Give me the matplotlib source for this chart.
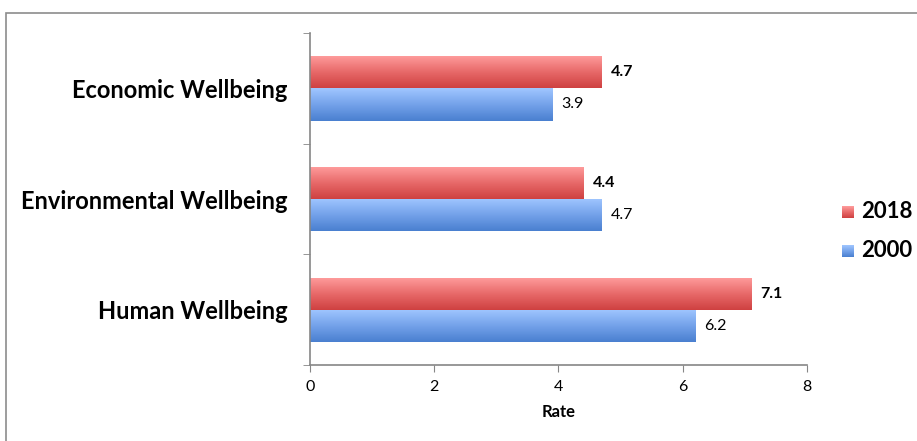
import numpy as np
import matplotlib.pyplot as plt
from matplotlib.colors import LinearSegmentedColormap
from matplotlib.patches import Rectangle

plt.rcParams["font.family"] = ["Lato", "DejaVu Sans"]

categories = ["Human Wellbeing", "Environmental Wellbeing", "Economic Wellbeing"]
rate_2018 = [7.1, 4.4, 4.7]
rate_2000 = [6.2, 4.7, 3.9]

fig = plt.figure(figsize=(9.17, 4.41), dpi=100)
ax = fig.add_axes([0.338, 0.172, 0.542, 0.753])

# grey frame round the chart area
fig.patches.append(Rectangle((0.0065, -0.1), 1.1, 1.07, transform=fig.transFigure,
                             fill=False, edgecolor="#8c8c8c", linewidth=1.2))

red_cm = LinearSegmentedColormap.from_list("red", ["#ff9d9d", "#e86a6a", "#cf4141"])
blue_cm = LinearSegmentedColormap.from_list("blue", ["#a0c6ff", "#74a2ea", "#4a80d0"])
grad = np.linspace(0, 1, 64).reshape(-1, 1)

h = 0.29
y = np.arange(len(categories))

def gradient_bars(vals, offs, cmap):
    bars = ax.barh(y + offs, vals, h, color="none", edgecolor="none")
    for b in bars:
        x0, y0 = b.get_x(), b.get_y()
        img = ax.imshow(grad, cmap=cmap, aspect="auto", origin="upper",
                        extent=[x0, x0 + b.get_width(), y0, y0 + b.get_height()],
                        zorder=2)
        img.set_clip_path(b)
    return bars

gradient_bars(rate_2018, h / 2, red_cm)
gradient_bars(rate_2000, -h / 2, blue_cm)

for i in range(len(categories)):
    ax.text(rate_2018[i] + 0.15, y[i] + h / 2, f"{rate_2018[i]:.1f}",
            va="center", ha="left", fontsize=11.5, fontweight="bold")
    ax.text(rate_2000[i] + 0.15, y[i] - h / 2, f"{rate_2000[i]:.1f}",
            va="center", ha="left", fontsize=11.5)

ax.set_xlim(0, 8)
ax.set_ylim(-0.5, 2.5)
ax.set_xticks([0, 2, 4, 6, 8])
ax.set_yticks(y)
ax.set_yticklabels(categories, fontsize=17, fontweight="bold")
ax.set_yticks([-0.5, 0.5, 1.5, 2.5], minor=True)
ax.tick_params(axis="y", which="major", length=0, pad=16)
ax.tick_params(axis="y", which="minor", length=5, color="#868686", direction="out")
ax.tick_params(axis="x", length=5, color="#868686", labelsize=11.5, pad=6)
ax.set_xlabel("Rate", fontsize=12, fontweight="bold", labelpad=7)

for s in ["top", "right"]:
    ax.spines[s].set_visible(False)
for s in ["left", "bottom"]:
    ax.spines[s].set_color("#868686")
    ax.spines[s].set_linewidth(1.2)

# legend squares and labels
for yy, lab, cm in [(0.52, "2018", red_cm), (0.432, "2000", blue_cm)]:
    sq = fig.add_axes([0.918, yy - 0.014, 0.0125, 0.026])
    sq.imshow(grad, cmap=cm, aspect="auto")
    sq.axis("off")
    fig.text(0.939, yy, lab, fontsize=16, fontweight="bold", va="center")

fig.savefig("out.png", dpi=100)
